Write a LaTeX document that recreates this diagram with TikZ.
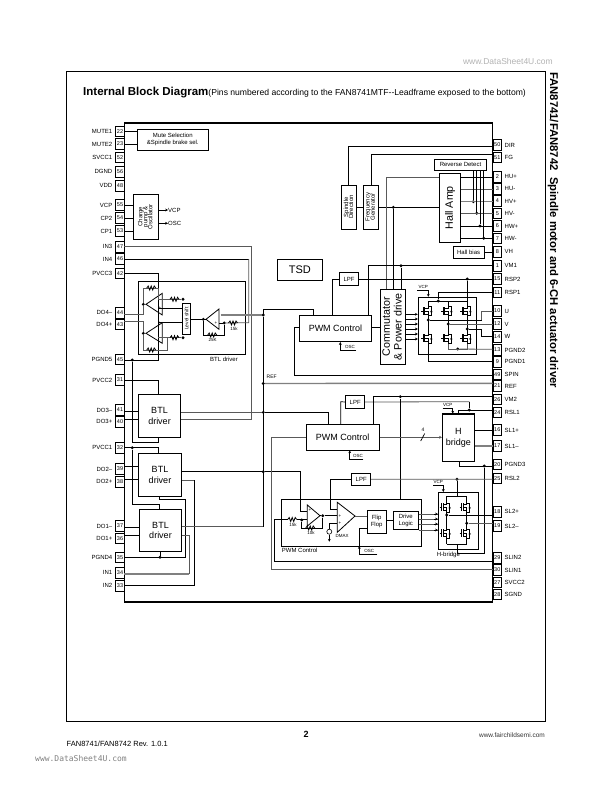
\documentclass[tikz,border=0pt]{standalone}
\usepackage{fontspec}
\setmainfont{Liberation Sans}
\usetikzlibrary{arrows.meta}
\newfontfamily\wmfont{DejaVu Sans Mono}
\newcommand{\fsz}[1]{\fontsize{#1}{1.18\dimexpr #1pt\relax}\selectfont}
\tikzset{
  res/.pic={\draw[line width=.8pt] (-5,0) -- (-3.5,-2) -- (-2,2) -- (-.5,-2) -- (1,2) -- (2.5,-2) -- (4,0);},
  fet/.pic={
    \draw[line width=.7pt] (-7,0) -- (-5,0) (-5,-4) -- (-5,4);
    \draw[line width=1pt] (-3.5,-4) -- (-3.5,4);
    \draw[line width=.7pt] (0,-6) -- (0,-3) -- (-3.5,-3) (0,6) -- (0,0) -- (-3.5,0) (0,3) -- (-3.5,3);
    \draw[line width=.6pt] (0,-4.5) -- (3,-4.5) -- (3,4.5) -- (0,4.5);
    \fill (1.8,1) -- (4.2,1) -- (3,-1) -- cycle;}
}
\begin{document}
\begin{tikzpicture}[x=1pt,y=-1pt,
  pinbox/.style={draw,line width=.8pt,minimum width=8.6pt,minimum height=10.5pt,inner sep=0pt,font=\fsz{5.5}},
  pinlbl/.style={inner sep=0pt,font=\fsz{6}},
  block/.style={draw,line width=.8pt,inner sep=0pt,align=center,font=\fsz{6}},
  bigblock/.style={block,font=\fsz{9}},
  tiny/.style={inner sep=0pt,font=\fsz{4.5}},
  dot/.style={circle,fill,inner sep=0pt,minimum size=3.2pt},
  wire/.style={line width=.7pt},
  dim/.style={line width=.8pt,black!65},
  heavy/.style={line width=1.4pt,black!50},
  flow/.style={-{Stealth[length=2.8pt,width=2.8pt]},line width=.7pt},
  amp/.style={line width=.8pt}]
\useasboundingbox (0,0) rectangle (612,792);
\draw[line width=.8pt] (66.5,71.7) rectangle (545,721.5);
\node[anchor=base west,inner sep=0pt] (title) at (83,95) {\fsz{11.5}\bfseries Internal Block Diagram\fsz{8.6}\mdseries(Pins numbered according to the FAN8741MTF-{}-Leadframe exposed to the bottom)};
\node[rotate=-90,anchor=west,inner sep=0pt,font=\fsz{11.3}\bfseries] (side) at (553,72) {FAN8741/FAN8742\ \ Spindle motor and 6-CH actuator driver};
\node[anchor=east,inner sep=0pt,font=\fsz{8.5},text=black!30] (wmtop) at (553,61) {www.DataSheet4U.com};
\node[inner sep=0pt,font=\fsz{9}\bfseries] (page) at (306,734) {2};
\node[anchor=east,inner sep=0pt,font=\fsz{6.5},text=black!80] (web) at (545,735) {www.fairchildsemi.com};
\node[anchor=west,inner sep=0pt,font=\fsz{7.5}] (rev) at (66.5,744) {FAN8741/FAN8742 Rev. 1.0.1};
\node[anchor=west,inner sep=0pt,font=\wmfont\fsz{8},text=black!50] (wmbot) at (35,759) {www.DataSheet4U.com};
\draw[line width=.8pt] (124.3,123.3) -- (124.3,602);
\draw[line width=1.8pt] (124.3,123.3) -- (492.5,123.3) -- (492.5,602) -- (124.3,602);
\foreach \lbl/\num/\y/\w in {MUTE1/22/131.6/131.6,MUTE2/23/144/144,SVCC1/52/157.3/157.3,DGND/56/171.7/171.7,VDD/48/185.7/185.7,VCP/55/205/205,CP2/54/218/218,CP1/53/231/231,IN3/47/246.7/246.7,IN4/46/259/259,PVCC3/42/273.3/273.3,DO4–/44/312.7/314.3,DO4+/43/324.3/321.7,PGND5/45/359.3/360,PVCC2/31/380/380,DO3–/41/410/411.7,DO3+/40/421.7/419.3,PVCC1/32/447.7/447.7,DO2–/39/469/466,DO2+/38/481.7/479,DO1–/37/526/527,DO1+/36/538.3/535,PGND4/35/557.3/557.3,IN1/34/572.7/574,IN2/33/585.7/585.7}{
  \node[pinbox] (p\num) at (120,\y) {\num};
  \node[pinlbl,anchor=east] (l\num) at (112.5,\y) {\lbl};
  \coordinate (w\num) at (124.3,\w);
}
\foreach \lbl/\num/\y/\w in {DIR/50/145/146,FG/51/157.3/154,HU+/2/176.7/177.7,HU-/3/188.7/189,HV+/4/201/201.7,HV-/5/213.3/213.3,HW+/6/226/226,HW-/7/238.3/238.3,VH/8/251.7/252.5,VM1/1/265.7/265.7,RSP2/15/279/279,RSP1/11/292.3/292.3,U/10/311/311,V/12/324/324,W/14/336.7/336.7,PGND2/13/350/349.3,PGND1/9/361.7/361,SPIN/49/374.3/375,REF/21/386/383.3,VM2/26/399.3/396.7,RSL1/24/412.3/410,SL1+/16/430/430,SL1–/17/446/446,PGND3/20/464.3/466,RSL2/25/478.3/479.3,SL2+/18/511.7/515,SL2–/19/526/523.3,SLIN2/29/557.7/561.7,SLIN1/30/570/569.5,SVCC2/27/582.3/582.3,SGND/28/594.3/594.3}{
  \node[pinbox] (p\num) at (497.3,\y) {\num};
  \node[pinlbl,anchor=west] (l\num) at (504.5,\y) {\lbl};
  \coordinate (w\num) at (492.5,\w);
}
\node[block,minimum width=71pt,minimum height=20.7pt] (mute) at (172.8,139.65) {Mute Selection\\\&Spindle brake sel.};
\node[block,minimum width=25.4pt,minimum height=45pt] (pump) at (146,216.8) {\rotatebox{90}{\begin{tabular}{@{}c@{}}Charge\\[-2pt]pump \&\\[-2pt]Oscillator\end{tabular}}};
\node[block,minimum width=106.6pt,minimum height=72.6pt] (btlbox) at (192,318) {};
\node[inner sep=0pt,font=\fsz{6}] (btltxt) at (224,359.5) {BTL driver};
\node[block,minimum width=8.4pt,minimum height=30.7pt] (shift) at (186.5,318.65) {\rotatebox{90}{\fsz{5}Level shift}};
\node[bigblock,minimum width=42.4pt,minimum height=43pt] (btla) at (159.5,415.8) {BTL\\driver};
\node[bigblock,minimum width=43.4pt,minimum height=42.7pt] (btlb) at (160,474.65) {BTL\\driver};
\node[bigblock,minimum width=42.4pt,minimum height=42.4pt] (btlc) at (160.5,530.5) {BTL\\driver};
\node[block,minimum width=15pt,minimum height=44pt] (spdir) at (349.2,207) {\rotatebox{90}{\begin{tabular}{@{}c@{}}Spindle\\[-2pt]Direction\end{tabular}}};
\node[block,minimum width=15pt,minimum height=44pt] (freq) at (370.8,207) {\rotatebox{90}{\begin{tabular}{@{}c@{}}Frequency\\[-2pt]Generator\end{tabular}}};
\node[block,minimum width=21.4pt,minimum height=69pt] (hall) at (450,207.8) {\rotatebox{90}{\fsz{10.7}Hall Amp}};
\node[block,minimum width=52.4pt,minimum height=10.7pt] (revdet) at (460.5,164.65) {Reverse Detect};
\node[block,minimum width=30.7pt,minimum height=11.6pt] (bias) at (468.65,252.5) {Hall bias};
\node[block,font=\fsz{11},minimum width=45pt,minimum height=20.7pt] (tsd) at (299.8,269.65) {TSD};
\node[block,minimum width=19.4pt,minimum height=13.4pt] (lpfa) at (349,279) {LPF};
\node[bigblock,minimum width=72.4pt,minimum height=26pt] (pwma) at (335.5,328.7) {PWM Control};
\node[block,minimum width=25pt,minimum height=75pt] (comm) at (393.2,326.8) {\rotatebox{90}{\fsz{10.7}\begin{tabular}{@{}c@{}}Commutator\\[-1pt]\& Power drive\end{tabular}}};
\node[block,line width=1pt,minimum width=58.4pt,minimum height=57pt] (brga) at (447.5,325.8) {};
\node[block,minimum width=19pt,minimum height=12.6pt] (lpfb) at (355.2,402) {LPF};
\node[bigblock,minimum width=73.3pt,minimum height=25.7pt] (pwmb) at (342.65,437.15) {PWM Control};
\node[bigblock,minimum width=32pt,minimum height=47.3pt] (hbr) at (458.3,437.65) {H\\bridge};
\draw[line width=1.8pt] (hbr.north west) -- (hbr.north east);
\node[block,minimum width=19pt,minimum height=11.7pt] (lpfc) at (361.2,479.15) {LPF};
\node[block,minimum width=140pt,minimum height=46.7pt] (pwmc) at (351.7,522.65) {};
\node[anchor=west,inner sep=0pt,font=\fsz{6}] (pwmtxt) at (281.7,550.7) {PWM Control};
\node[block,minimum width=18.7pt,minimum height=23.3pt] (flip) at (376.65,521.65) {Flip\\Flop};
\node[block,minimum width=25pt,minimum height=18.3pt] (drv) at (405.8,520.15) {Drive\\Logic};
\node[block,minimum width=40pt,minimum height=57pt] (brgb) at (458.3,520.8) {};
\node[anchor=west,inner sep=0pt,font=\fsz{6}] (hbtxt) at (436.7,555.3) {H-bridge};
\foreach \n/\x/\y in {dpg/132.3/360,dfba/203.3/319.3,dfbb/224.3/323,dbus/263.3/315,dref/263.3/383.5,dlow/263.3/412.3,dlowb/263.3/471.7,dvc/132.3/447.7,dgn/160/557.3,dhfg/393.3/207.3,dvma/401/265.7,drsp/467.3/279,dvmb/400.3/396.7,drsl/469.3/410,dgnd/484.3/466,drsb/457/479.3,dhva/473.3/201.7,dhvb/476.7/213.3,dhwa/480/226,dhwb/483.7/238.3,dtip/322.7/515.7,dfbc/301.7/520,dpgb/457.7/349,dfeu/428.3/320,dfev/448.3/324,dfew/467.3/329,dfel/446.7/515,dfer/466.7/523.3,dta/143.3/304.3,dtb/143.3/333.3,dra/183/299.3,drb/183/337.7,drt/438.3/301}{
  \node[dot] (\n) at (\x,\y) {};
}
\draw[wire] (w22) -- (mute.west |- w22);
\draw[wire] (w23) -- (mute.west |- w23);
\foreach \p in {55,54,53} \draw[wire] (w\p) -- (pump.west |- w\p);
\node[inner sep=0pt,anchor=west,font=\fsz{6}] (lvcp) at (168,210) {VCP};
\node[inner sep=0pt,anchor=west,font=\fsz{6}] (losc) at (168,223.3) {OSC};
\draw[flow] (pump.east |- lvcp) -- (lvcp.west);
\draw[flow] (pump.east |- losc) -- (losc.west);
\draw[dim] (w47) -- (251.3,246.7) -- (251.3,419.3) -- (btla.east |- 0,419.3);
\draw[wire] (w46) -- (248.7,259);
\draw[dim] (248.7,259) -- (248.7,322.7) -- (dfbb);
\draw[wire] (w42) -- (158.7,273.3) -- (158.7,360) -- (w45);
\draw[wire] (dpg) -- (132.3,442.3) -- (158.7,442.3) -- (btla.south -| 158.7,0);
\draw[wire] (w31) -- (158.7,380) -- (btla.north -| 158.7,0);
\foreach \p in {41,40} \draw[wire] (w\p) -- (btla.west |- w\p);
\foreach \p in {39,38} \draw[wire] (w\p) -- (btlb.west |- w\p);
\foreach \p in {37,36} \draw[wire] (w\p) -- (btlc.west |- w\p);
\draw[wire] (w32) -- (158.7,447.7) -- (btlb.north -| 158.7,0);
\draw[wire] (dvc) -- (132.3,504.3) -- (159.3,504.3) -- (btlc.north -| 159.3,0);
\draw[wire] (btlb.south -| 159.3,0) -- (159.3,499.3) -- (185.7,499.3) -- (185.7,557.3) -- (w35);
\draw[wire] (dgn) -- (btlc.south -| dgn);
\draw[dim] (btlb.east |- 0,480.3) -- (194.3,480.3);
\draw[wire] (194.3,480.3) -- (194.3,585.7) -- (w33);
\draw[dim] (btlc.east |- 0,535.7) -- (189.3,535.7) -- (189.3,574);
\draw[heavy,line width=1.1pt] (189.3,574) -- (w34);
\draw[dim] (btlc.east |- 0,526.7) -- (263.3,526.7);
\draw[wire] (263.3,526.7) -- (dbus);
\draw[wire] (263.3,315) -- (263.3,309.3) -- (313.3,309.3) -- (pwma.north -| 313.3,0);
\draw[dim] (btla.east |- dlow) -- (dlow);
\draw[wire] (dlow) -- (328.3,412.3) -- (pwmb.north -| 328.3,0);
\draw[wire] (btlb.east |- dlowb) -- (dlowb) -- (300,471.7) -- (300,511.7) -- (307.3,511.7);
\draw[heavy] (220.5,315) -- (dbus);
\draw[heavy] (dref) -- (w21);
\node[inner sep=0pt,font=\fsz{5}] (lref) at (271.7,376.7) {REF};
\draw[amp] (146,304.3) -- (162.3,293.3) -- (162.3,315) -- cycle;
\draw[amp] (146,333.3) -- (162.3,322.7) -- (162.3,343.3) -- cycle;
\draw[amp] (206,319.3) -- (219,309) -- (219,329.3) -- cycle;
\draw[dim] (w44) -- (143.3,314.3) -- (dta) -- (146,304.3);
\draw[dim] (w43) -- (143.3,321.7) -- (dtb) -- (146,333.3);
\draw[dim] (dta) -- (143.3,288) -- (158.7,288) -- (158.7,299.3) -- (dra);
\draw[dim] (dtb) -- (143.3,350) -- (167.3,350) -- (167.3,337.7);
\draw[dim] (158,337.7) -- (drb);
\pic at (151.7,288) {res};
\pic at (175,299.3) {res};
\pic at (175,337.7) {res};
\pic at (151.7,350) {res};
\draw[wire] (158,308.3) -- (shift.west |- 0,308.3);
\draw[wire] (158,322.7) -- (shift.west |- 0,322.7);
\draw[wire] (shift.east |- dfba) -- (206,319.3);
\draw[wire] (dfba) -- (203.3,335) -- (224.3,335) -- (dfbb) -- (219,323);
\pic at (212.7,335) {res};
\pic at (233.5,323) {res};
\node[tiny] (lra) at (234,329) {15k};
\node[tiny] (lrb) at (212.7,340) {25K};
\node[tiny] (pa) at (160,308.3) {+};
\node[tiny] (pb) at (160,322.7) {+};
\node[tiny] (pc) at (216,323) {+};
\draw[wire] (w50) -- (348.3,146) -- (spdir.north -| 348.3,0);
\draw[wire] (w51) -- (371.7,154) -- (freq.north -| 371.7,0);
\draw[wire] (spdir.east |- dhfg) -- (freq.west |- dhfg);
\draw[wire] (freq.east |- dhfg) -- (hall.west |- dhfg);
\draw[wire] (dhfg) -- (comm.north -| dhfg);
\draw[dim] (hall.west |- 0,177.7) -- (386,177.7) -- (comm.north -| 386,0);
\draw[wire] (hall.east |- w2) -- (w2);
\draw[dim] (hall.east |- w3) -- (w3);
\draw[heavy] (hall.east |- w4) -- (w4);
\draw[dim] (hall.east |- w5) -- (w5);
\draw[wire] (hall.east |- w6) -- (w6);
\draw[wire] (hall.east |- w7) -- (w7);
\foreach \d in {dhva,dhvb,dhwa,dhwb} \draw[wire] (revdet.south -| \d) -- (\d);
\draw[wire] (bias.east |- w8) -- (w8);
\draw[wire] (pwma.north -| 332.7,0) -- (332.7,279) -- (lpfa.west);
\draw[wire] (lpfa.east) -- (w15);
\draw[wire] (pwma.north -| 368.3,0) -- (368.3,265.7) -- (w1);
\draw[wire] (dvma) -- (comm.north -| dvma);
\draw[wire] (pwma.east |- 0,327.7) -- (comm.west |- 0,327.7);
\draw[wire] (w49) -- (294.3,375) -- (294.3,327.7) -- (pwma.west |- 0,327.7);
\draw[flow] (356,350) -- (340.3,350) -- (pwma.south -| 340.3,0);
\node[tiny] (losca) at (350,346.7) {OSC};
\foreach \y in {314.3,319,324,329,334,339} \draw[flow] (comm.east |- 0,\y) -- (brga.west |- 0,\y);
\foreach \x in {428.3,448.3,467.3}{
  \pic at (\x,311) {fet};
  \pic at (\x,338.3) {fet};
  \draw[wire] (\x,301) -- (\x,305) (\x,317) -- (\x,332.3);
}
\draw[wire] (428.3,301) -- (467.3,301);
\draw[flow] (417.3,290) -- (428.3,290) -- (brga.north -| 428.3,0);
\node[tiny] (lvcpa) at (423.3,286.5) {VCP};
\draw[wire] (w11) -- (438.3,292.3) -- (drt);
\draw[wire] (drsp) -- (467.3,301);
\draw[dim] (w10) -- (481.7,311) -- (481.7,320);
\draw[wire] (481.7,320) -- (dfeu);
\draw[dim] (w12) -- (dfev);
\draw[wire] (w14) -- (481.7,336.7) -- (481.7,329) -- (dfew);
\draw[dim] (w13) -- (dpgb);
\draw[dim] (448.3,344.3) -- (448.3,349) -- (467.3,349) -- (467.3,344.3);
\draw[wire] (428.3,344.3) -- (428.3,361) -- (w9);
\draw[wire] (pwmb.north -| 340.7,0) -- (340.7,401.7) -- (lpfb.west);
\draw[dim] (lpfb.east) -- (469.3,401.7);
\draw[wire] (469.3,401.7) -- (drsl);
\draw[wire] (w24) -- (458.3,410) -- (hbr.north -| 458.3,0);
\draw[wire] (pwmb.north -| 373.3,0) -- (373.3,396.7) -- (w26);
\draw[wire] (dvmb) -- (pwmc.north -| dvmb);
\draw[flow] (442.7,408.3) -- (452.7,408.3) -- (hbr.north -| 452.7,0);
\node[tiny] (lvcpb) at (447.7,404.5) {VCP};
\draw[dim,-{Stealth[length=2.8pt,width=2.8pt]}] (pwmb.east |- 0,437.3) -- (hbr.west |- 0,437.3);
\draw[wire] (420.7,441) -- (424.7,433.5);
\node[tiny,font=\fsz{5}] (lfour) at (423,429.5) {4};
\draw[flow] (363.3,459) -- (349.7,459) -- (pwmb.south -| 349.7,0);
\node[tiny] (loscb) at (358,456) {OSC};
\draw[wire] (hbr.east |- w16) -- (w16);
\draw[heavy] (hbr.east |- w17) -- (w17);
\draw[wire] (w20) -- (459.3,466) -- (hbr.south -| 459.3,0);
\draw[wire] (dgnd) -- (484.3,553.3) -- (457.3,553.3) -- (brgb.south -| 457.3,0) -- (457.3,544);
\draw[dim] (pwmb.west |- 0,437.3) -- (271,437.3) -- (271,569.5);
\draw[dim] (271,569.5) -- (w30);
\draw[wire] (w29) -- (274.3,561.7) -- (274.3,519.5) -- (288,519.5);
\draw[dim] (lpfc.east) -- (w25);
\draw[wire] (lpfc.west) -- (330.7,479.15) -- (330.7,509.3) -- (337.3,509.3);
\draw[wire] (drsb) -- (457,496);
\draw[amp] (320,515.7) -- (307.3,505) -- (307.3,526) -- cycle;
\draw[amp] (355,516) -- (337.3,502.3) -- (337.3,532.3) -- cycle;
\pic at (292.7,519.5) {res};
\pic at (310.7,528) {res};
\draw[wire] (296.7,519.5) -- (307.3,519.5);
\draw[wire] (320,515.7) -- (dtip) -- (337.3,515.7);
\draw[wire] (dtip) -- (322.7,528) -- (301.7,528) -- (dfbc);
\node[tiny] (lrc) at (293,525) {15k};
\node[tiny] (lrd) at (311,533) {10k};
\node[circle,draw,line width=.6pt,minimum size=5pt,inner sep=0pt] (src) at (329.3,531.7) {};
\coordinate (srcg) at (329.3,541.7);
\draw[wire] (src) -- (329.3,523.3) -- (337.3,523.3);
\draw[flow] (src) -- (srcg);
\node[tiny] (ldmax) at (342,536) {DMAX};
\node[tiny] (ma) at (310,510.5) {+};
\node[tiny] (mb) at (340,515.7) {+};
\node[tiny] (mc) at (340,523.3) {+};
\draw[dim] (355,516) -- (flip.west |- 0,516);
\draw[wire] (flip.east |- 0,520) -- (drv.west |- 0,520);
\foreach \y in {514,519,524,530} \draw[dim] (drv.east |- 0,\y) -- (brgb.west |- 0,\y);
\foreach \y in {514,519,524,530} \draw[flow] (434,\y) -- (brgb.west |- 0,\y);
\draw[wire] (flip.west |- 0,528.3) -- (359.3,528.3);
\draw[wire] (377.3,554.3) -- (359.3,554.3) -- (359.3,528.3);
\draw[flow] (359.3,552) -- (359.3,546);
\node[tiny] (loscc) at (369.3,551) {OSC};
\foreach \x in {446.7,466.7}{
  \pic at (\x,507.3) {fet};
  \pic at (\x,533.3) {fet};
  \draw[wire] (\x,496) -- (\x,501.3) (\x,513.3) -- (\x,527.3) (\x,539.3) -- (\x,544);
}
\draw[wire] (446.7,496) -- (466.7,496) (446.7,544) -- (466.7,544);
\draw[wire] (dfel) -- (w18);
\draw[dim] (dfer) -- (w19);
\draw[flow] (433.3,485) -- (443.3,485) -- (brgb.north -| 443.3,0);
\node[tiny] (lvcpc) at (438.3,481.7) {VCP};
\end{tikzpicture}
\end{document}
